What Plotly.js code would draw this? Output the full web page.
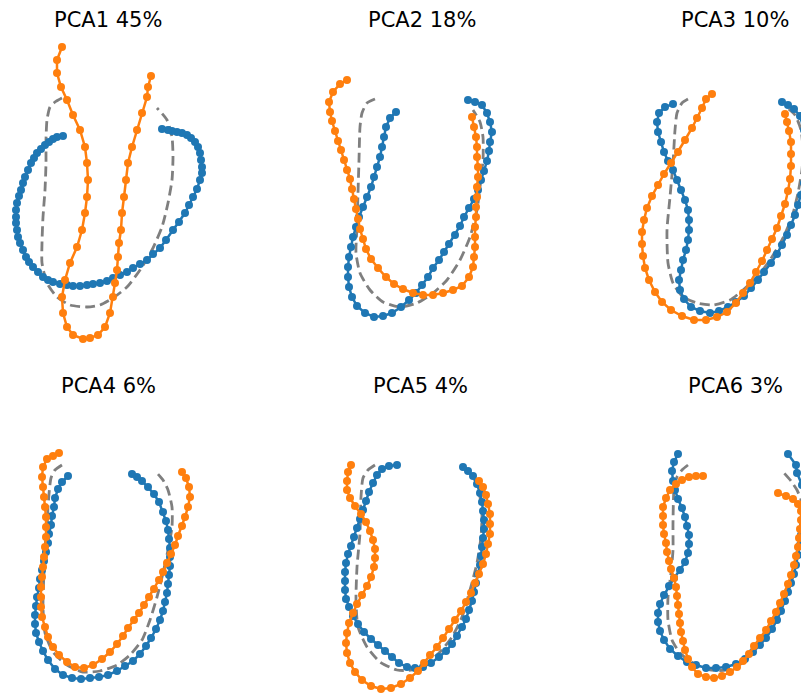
<!DOCTYPE html>
<html>
<head>
<meta charset="utf-8">
<script src="https://cdn.plot.ly/plotly-3.0.1.min.js"></script>
<style>html,body{margin:0;padding:0;background:#fff;}#chart{width:801px;height:693px;}</style>
</head>
<body>
<div id="chart"></div>
<script>
// Panel titles
const titles = ["PCA1 45%", "PCA2 18%", "PCA3 10%", "PCA4 6%", "PCA5 4%", "PCA6 3%"];

// Shape outlines, [x, y] pairs (image units, y downward)
const p1Mean = [[62,98],[55,102],[50,107],[47,120],[46,140],[46,163],[45,190],[43,217],[42,243],[42,263],[47,283],[57,297],[70,305],[87,307],[100,305],[113,298],[127,287],[140,270],[152,250],[162,227],[168,203],[172,180],[173,157],[172,137],[167,120],[157,108]];
const p1Blue = [[63,136],[57,137],[53,139],[49,142],[45,145],[41,149],[37,153],[34,158],[31,163],[28,170],[25,177],[23,183],[21,190],[19,196],[17,203],[16,210],[16,217],[16,223],[17,230],[18,237],[20,243],[23,250],[26,257],[29,262],[33,267],[38,272],[43,277],[48,280],[53,282],[60,284],[67,285],[73,286],[80,286],[87,285],[93,284],[100,283],[107,281],[113,278],[120,275],[127,272],[133,268],[140,264],[147,260],[153,254],[160,248],[166,240],[173,230],[179,222],[185,213],[189,205],[193,197],[197,189],[200,180],[202,173],[202,167],[201,160],[200,153],[198,147],[195,142],[191,138],[187,135],[182,133],[177,132],[172,131],[168,130],[162,129]];
const p1Orange = [[62,47],[57,60],[57,73],[61,87],[67,100],[73,115],[80,130],[85,147],[87,163],[88,180],[87,197],[85,213],[82,230],[77,247],[70,263],[65,280],[62,297],[63,313],[67,327],[73,335],[83,339],[90,338],[98,335],[105,327],[110,313],[113,297],[115,283],[117,270],[118,257],[119,243],[121,230],[122,213],[124,197],[126,180],[128,163],[132,147],[137,130],[142,113],[147,97],[148,87],[151,76]];

const p2Mean = [[375,99],[367,103],[362,113],[360,127],[359,160],[358,193],[357,227],[356,253],[360,273],[370,290],[383,302],[400,307],[417,303],[433,293],[447,280],[460,260],[470,237],[477,210],[480,187],[483,160],[483,137],[480,122],[473,110]];
const p2Blue = [[396,112],[390,118],[386,127],[384,137],[382,147],[380,157],[377,167],[374,177],[371,187],[367,197],[363,207],[359,217],[356,227],[353,237],[351,247],[349,257],[348,267],[348,277],[349,287],[352,297],[357,306],[365,313],[374,317],[383,316],[392,313],[401,307],[409,300],[416,293],[422,285],[428,277],[433,268],[439,260],[444,252],[449,244],[455,235],[460,226],[464,217],[469,208],[474,199],[478,190],[481,180],[484,171],[487,161],[489,151],[490,142],[492,132],[490,122],[487,113],[482,105],[475,102],[468,100]];
const p2Orange = [[347,80],[340,84],[333,92],[329,102],[330,112],[332,121],[335,131],[338,141],[341,150],[344,160],[347,170],[350,179],[352,189],[354,199],[356,209],[358,219],[360,229],[363,239],[366,249],[371,259],[378,268],[386,277],[394,284],[403,289],[413,293],[423,295],[433,295],[443,293],[453,290],[462,286],[469,277],[473,267],[474,257],[475,247],[475,237],[475,227],[476,217],[476,207],[477,197],[477,187],[478,177],[478,167],[477,157],[477,147],[476,137],[474,127],[472,117]];

const p3Mean = [[688,99],[682,103],[677,113],[675,130],[673,163],[670,197],[667,230],[668,263],[673,283],[683,297],[697,303],[713,305],[730,300],[743,290],[757,277],[770,260],[782,240],[792,217],[798,193],[802,170],[803,150],[801,130],[795,115],[785,106]];
const p3Blue = [[673,104],[665,107],[659,113],[657,122],[658,132],[661,142],[664,152],[668,161],[673,170],[677,180],[681,190],[685,200],[688,210],[689,220],[689,230],[688,240],[686,250],[683,260],[681,270],[679,280],[680,290],[684,299],[691,307],[700,311],[710,313],[719,311],[728,307],[736,302],[744,296],[751,288],[758,280],[764,272],[771,263],[777,254],[782,245],[787,235],[791,225],[795,215],[798,205],[801,195],[804,183],[806,170],[807,157],[806,143],[804,130],[800,116],[794,109],[788,105],[782,102]];
const p3Orange = [[712,94],[706,99],[702,108],[697,118],[692,128],[685,140],[678,152],[671,163],[664,174],[658,185],[652,196],[647,208],[644,220],[642,232],[642,244],[643,256],[645,268],[649,280],[655,292],[662,302],[671,310],[682,316],[694,320],[706,320],[717,317],[727,312],[736,303],[743,293],[750,283],[756,272],[762,261],[767,250],[772,239],[777,228],[781,216],[785,204],[788,191],[790,179],[791,166],[791,154],[791,142],[789,131],[787,122],[785,114]];

const p4Mean = [[62,465],[55,470],[51,478],[48,507],[47,540],[44,573],[43,607],[45,633],[53,652],[67,665],[83,672],[100,671],[117,665],[130,655],[142,640],[150,620],[157,597],[163,573],[168,550],[172,527],[172,507],[168,490],[163,480],[157,473]];
const p4Blue = [[68,476],[62,482],[58,489],[55,498],[54,507],[52,516],[51,525],[49,534],[48,543],[46,552],[44,561],[42,570],[40,579],[39,588],[37,597],[36,606],[35,615],[35,624],[36,633],[39,642],[43,651],[48,660],[55,669],[63,675],[72,678],[81,679],[90,678],[99,677],[108,675],[117,671],[125,666],[133,661],[140,654],[146,646],[151,638],[156,629],[160,620],[163,611],[165,602],[167,593],[168,584],[169,575],[170,566],[170,557],[170,548],[169,539],[168,530],[166,521],[163,512],[159,502],[154,494],[148,487],[142,481],[137,477],[132,474]];
const p4Orange = [[59,453],[53,456],[47,459],[43,467],[42,477],[43,487],[44,497],[45,507],[46,517],[46,527],[46,537],[45,547],[44,557],[43,567],[42,577],[41,587],[41,597],[41,607],[42,617],[45,627],[48,637],[53,647],[59,655],[67,662],[75,667],[84,668],[93,665],[102,659],[110,652],[117,644],[123,636],[128,628],[134,620],[139,613],[144,605],[149,597],[154,589],[159,580],[163,572],[167,563],[171,554],[175,545],[178,536],[182,526],[185,517],[188,507],[190,497],[189,487],[186,478],[182,472]];

const p5Mean = [[375,465],[368,470],[363,478],[361,497],[360,533],[357,567],[356,600],[358,627],[367,647],[380,662],[397,670],[412,670],[427,663],[440,652],[452,637],[462,617],[470,590],[477,563],[481,537],[482,513],[480,497],[477,483],[472,477]];
const p5Blue = [[397,465],[389,466],[382,469],[377,475],[373,483],[369,492],[366,501],[363,510],[360,519],[357,528],[354,537],[351,546],[348,554],[346,563],[345,572],[345,581],[345,590],[346,599],[349,607],[353,616],[358,624],[364,632],[371,639],[378,645],[385,651],[392,657],[399,663],[407,667],[415,668],[423,667],[431,663],[439,657],[446,651],[452,644],[457,636],[462,627],[466,619],[469,610],[472,601],[474,592],[476,583],[478,574],[480,565],[481,556],[482,547],[483,538],[484,529],[484,520],[483,511],[482,502],[480,493],[477,484],[473,476],[468,471],[463,467]];
const p5Orange = [[351,465],[348,472],[347,481],[347,490],[350,498],[355,506],[361,514],[366,522],[370,531],[373,540],[375,549],[375,558],[374,567],[371,577],[367,586],[362,595],[357,604],[353,613],[349,623],[347,633],[346,643],[347,653],[350,663],[355,672],[362,680],[371,686],[381,689],[391,688],[401,684],[410,678],[418,671],[424,663],[430,655],[437,647],[443,638],[449,629],[455,620],[461,611],[466,602],[471,593],[475,583],[479,574],[483,564],[486,554],[488,544],[490,534],[490,524],[490,514],[488,504],[486,495],[483,487],[479,481]];

const p6Mean = [[688,465],[682,470],[677,477],[674,490],[673,523],[673,550],[671,573],[668,597],[668,620],[672,640],[680,653],[693,663],[710,670],[727,670],[742,663],[755,650],[767,633],[777,613],[787,593],[793,573],[798,553],[801,533],[803,515],[801,500],[797,490],[791,481],[784,473]];
const p6Blue = [[678,454],[674,462],[672,471],[673,481],[675,490],[678,499],[682,508],[685,517],[687,526],[689,535],[689,544],[688,553],[685,562],[680,570],[674,578],[669,586],[664,595],[660,604],[658,613],[658,622],[660,631],[664,640],[670,649],[678,656],[687,662],[696,665],[706,668],[716,668],[726,667],[736,664],[745,659],[753,652],[760,645],[766,638],[772,629],[777,620],[781,611],[785,601],[788,592],[791,583],[794,574],[796,565],[798,555],[800,545],[801,535],[803,525],[805,515],[806,505],[805,495],[802,485],[797,473],[796,465],[788,454]];
const p6Orange = [[703,476],[696,476],[689,477],[682,480],[676,484],[670,490],[666,498],[663,507],[663,516],[663,525],[664,534],[666,543],[667,552],[669,561],[671,569],[674,578],[676,587],[677,596],[678,605],[679,614],[680,623],[681,632],[683,641],[685,650],[688,659],[692,667],[698,674],[706,677],[714,678],[722,676],[730,672],[737,667],[743,661],[749,654],[754,646],[760,638],[766,630],[771,621],[776,612],[780,603],[784,594],[788,584],[791,575],[794,565],[796,556],[798,547],[799,538],[800,529],[801,520],[801,511],[798,504],[793,499],[786,496],[778,493]];

const panels = [
  {mean: p1Mean, blue: p1Blue, orange: p1Orange},
  {mean: p2Mean, blue: p2Blue, orange: p2Orange},
  {mean: p3Mean, blue: p3Blue, orange: p3Orange},
  {mean: p4Mean, blue: p4Blue, orange: p4Orange},
  {mean: p5Mean, blue: p5Blue, orange: p5Orange},
  {mean: p6Mean, blue: p6Blue, orange: p6Orange}
];

const W = 801, H = 693;
const colPx = [[0, 267], [267, 534], [534, 801]];
const rowPx = [[30, 356], [358, 693]];
const titlePos = [[108, 20], [422, 20], [735, 20], [108, 386], [421, 386], [735, 386]];

const traces = [];
const layout = {
  width: W, height: H,
  margin: {l: 0, r: 0, t: 0, b: 0},
  paper_bgcolor: '#ffffff', plot_bgcolor: '#ffffff',
  showlegend: false,
  font: {family: 'DejaVu Sans, sans-serif', color: '#000000'},
  annotations: []
};

panels.forEach((p, i) => {
  const c = i % 3, r = Math.floor(i / 3);
  const ax = i === 0 ? '' : String(i + 1);
  const xa = 'x' + ax, ya = 'y' + ax;
  const xs = a => a.map(d => d[0]);
  const ys = a => a.map(d => d[1]);
  traces.push({x: xs(p.mean), y: ys(p.mean), xaxis: xa, yaxis: ya, type: 'scatter', mode: 'lines',
    line: {color: '#7f7f7f', width: 2.8, dash: '10px,5px', shape: 'spline', smoothing: 0.6}, hoverinfo: 'skip'});
  traces.push({x: xs(p.blue), y: ys(p.blue), xaxis: xa, yaxis: ya, type: 'scatter', mode: 'lines+markers',
    line: {color: '#1f77b4', width: 2.5}, marker: {color: '#1f77b4', size: 8}, hoverinfo: 'skip'});
  traces.push({x: xs(p.orange), y: ys(p.orange), xaxis: xa, yaxis: ya, type: 'scatter', mode: 'lines+markers',
    line: {color: '#ff7f0e', width: 2.5}, marker: {color: '#ff7f0e', size: 8}, hoverinfo: 'skip'});
  const axStyle = {visible: false, showgrid: false, zeroline: false, fixedrange: true};
  layout['xaxis' + ax] = Object.assign({}, axStyle, {
    domain: [colPx[c][0] / W, colPx[c][1] / W], range: [colPx[c][0], colPx[c][1]], anchor: ya});
  layout['yaxis' + ax] = Object.assign({}, axStyle, {
    domain: [1 - rowPx[r][1] / H, 1 - rowPx[r][0] / H], range: [rowPx[r][1], rowPx[r][0]], anchor: xa});
  layout.annotations.push({text: titles[i], xref: 'paper', yref: 'paper',
    x: titlePos[i][0] / W, y: 1 - titlePos[i][1] / H, xanchor: 'center', yanchor: 'middle',
    showarrow: false, font: {size: 21, color: '#000000', family: 'DejaVu Sans, sans-serif'}});
});

Plotly.newPlot('chart', traces, layout, {staticPlot: true, displayModeBar: false});
</script>
</body>
</html>
